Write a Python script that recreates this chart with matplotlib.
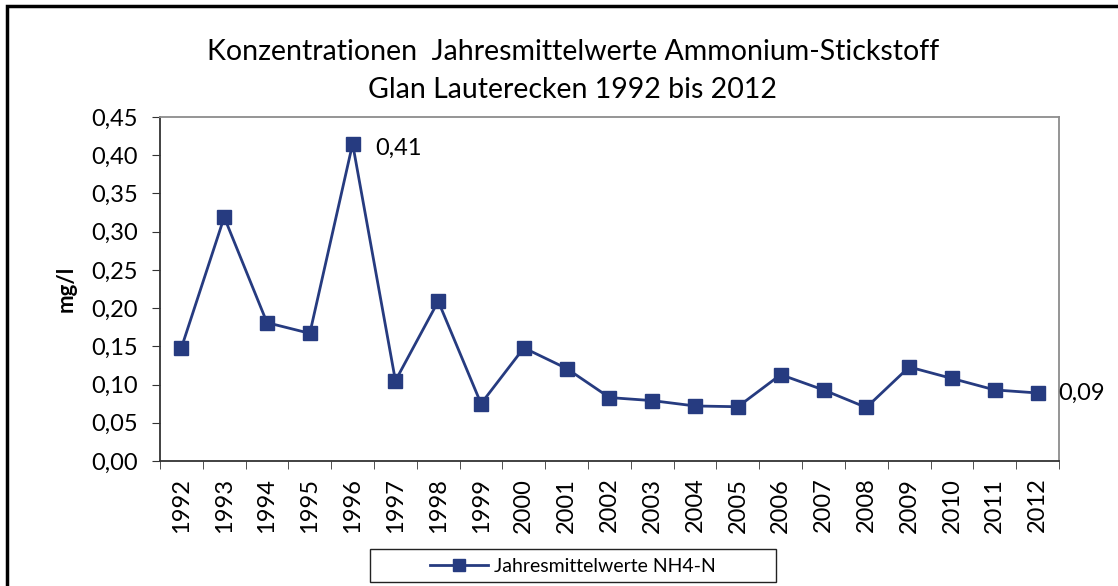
import numpy as np
import matplotlib.pyplot as plt
from matplotlib.patches import Rectangle

years = [str(y) for y in range(1992, 2013)]
nh4_n = [0.148, 0.319, 0.181, 0.167, 0.415, 0.105, 0.209, 0.075, 0.148, 0.121,
         0.083, 0.079, 0.072, 0.071, 0.113, 0.093, 0.070, 0.123, 0.108, 0.093, 0.089]
yticks = [0.00, 0.05, 0.10, 0.15, 0.20, 0.25, 0.30, 0.35, 0.40, 0.45]

plt.rcParams['font.family'] = ['Lato', 'DejaVu Sans']
navy = '#263b80'

fig = plt.figure(figsize=(11.18, 5.86), dpi=100)
ax = fig.add_axes([0.1431, 0.2133, 0.8041, 0.587])

x = np.arange(len(years))
ax.plot(x, nh4_n, color=navy, lw=2.0, marker='s', ms=10.5, mfc=navy, mec=navy)

# data labels
ax.annotate('0,41', (4, nh4_n[4]), xytext=(16, -3), textcoords='offset points',
            va='center', ha='left', fontsize=17)
ax.annotate('0,09', (20, nh4_n[20]), xytext=(15, 0), textcoords='offset points',
            va='center', ha='left', fontsize=17, annotation_clip=False)

ax.set_xlim(-0.5, 20.5)
ax.set_ylim(0, 0.45)
ax.set_yticks(yticks)
ax.set_yticklabels([f'{v:.2f}'.replace('.', ',') for v in yticks], fontsize=17)
ax.set_xticks(x)
ax.set_xticklabels(years, rotation=90, fontsize=17)
ax.set_xticks(np.arange(-0.5, 21, 1), minor=True)
ax.tick_params(axis='x', which='major', length=0, pad=12)
ax.tick_params(axis='x', which='minor', length=6, direction='out', color='#333333')
ax.tick_params(axis='y', length=6, direction='out', color='#333333', pad=10)
ax.set_ylabel('mg/l', fontsize=16, fontweight='bold', labelpad=10)

for s in ['top', 'right']:
    ax.spines[s].set_color('#8c8c8c')
    ax.spines[s].set_linewidth(1.3)
for s in ['left', 'bottom']:
    ax.spines[s].set_color('#333333')
    ax.spines[s].set_linewidth(1.3)

fig.text(0.5125, 0.911, 'Konzentrationen  Jahresmittelwerte Ammonium-Stickstoff',
         ha='center', va='center', fontsize=20.5)
fig.text(0.5125, 0.847, 'Glan Lauterecken 1992 bis 2012',
         ha='center', va='center', fontsize=20.5)

# legend
ax.plot([], [], color=navy, lw=2.0, marker='s', ms=8, label='Jahresmittelwerte NH4-N')
leg = fig.legend(loc='center', bbox_to_anchor=(0.5125, 0.0335), fontsize=14,
                 frameon=False, handlelength=3.0, handletextpad=0.3)
fig.patches.append(Rectangle((370 / 1118, (586 - 582) / 586), 406 / 1118, 33 / 586,
                             transform=fig.transFigure, fill=False,
                             edgecolor='#222222', lw=1.0))

# outer chart border (cut off at right and bottom)
fig.patches.append(Rectangle((7 / 1118, -0.1), 1.2, (586 - 6) / 586 + 0.1,
                             transform=fig.transFigure, fill=False,
                             edgecolor='black', lw=2.5))

fig.savefig('out.png', dpi=100)
